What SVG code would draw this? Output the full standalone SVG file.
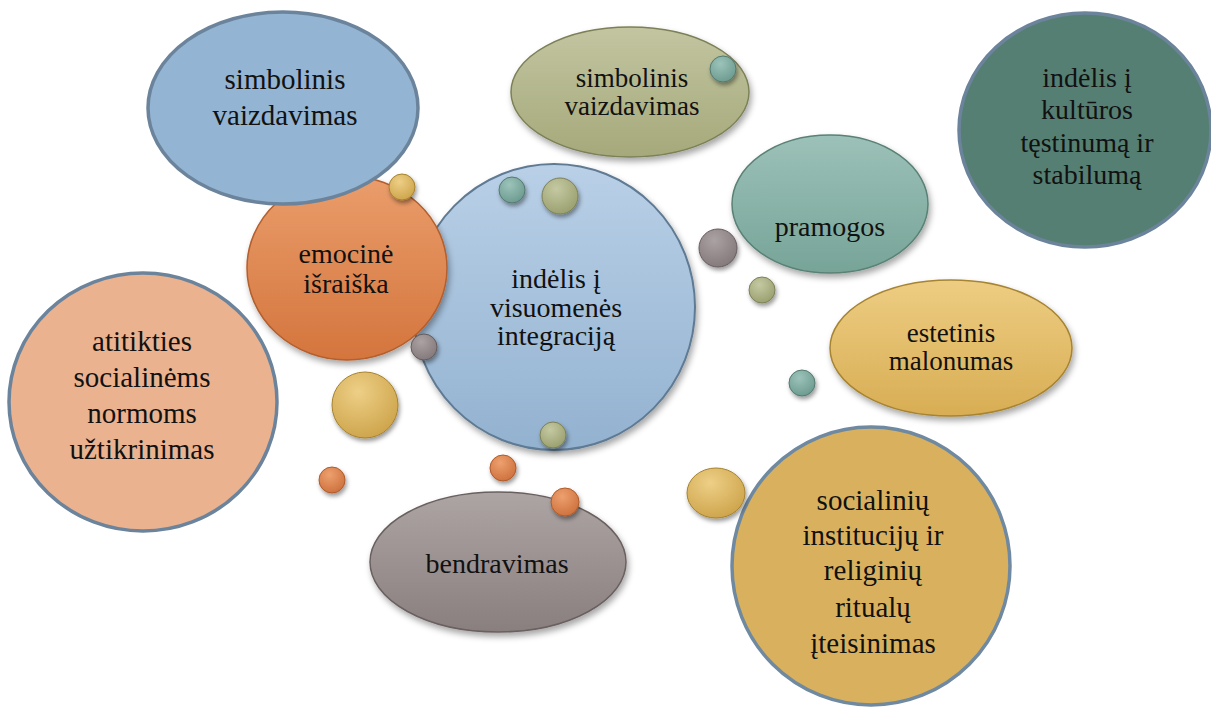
<svg xmlns="http://www.w3.org/2000/svg" width="1211" height="711" viewBox="0 0 1211 711">
<defs>
<filter id="sh" x="-20%" y="-20%" width="140%" height="150%">
<feDropShadow dx="2" dy="4" stdDeviation="3" flood-color="#000" flood-opacity="0.35"/>
</filter>
<filter id="shs" x="-50%" y="-50%" width="200%" height="200%">
<feDropShadow dx="1.5" dy="3" stdDeviation="2" flood-color="#000" flood-opacity="0.4"/>
</filter>
<linearGradient id="gOrange" x1="0" y1="0" x2="0" y2="1"><stop offset="0" stop-color="#EA9D6B"/><stop offset="1" stop-color="#D4753D"/></linearGradient>
<linearGradient id="gCenter" x1="0" y1="0" x2="0" y2="1"><stop offset="0" stop-color="#B9D0E7"/><stop offset="1" stop-color="#93B2D0"/></linearGradient>
<linearGradient id="gOlive" x1="0" y1="0" x2="0" y2="1"><stop offset="0" stop-color="#C2C5A0"/><stop offset="1" stop-color="#A5A97A"/></linearGradient>
<linearGradient id="gTeal" x1="0" y1="0" x2="0" y2="1"><stop offset="0" stop-color="#9CC1B8"/><stop offset="1" stop-color="#77A498"/></linearGradient>
<linearGradient id="gYel" x1="0" y1="0" x2="0" y2="1"><stop offset="0" stop-color="#EDCD82"/><stop offset="1" stop-color="#D8AD54"/></linearGradient>
<linearGradient id="gGray" x1="0" y1="0" x2="0" y2="1"><stop offset="0" stop-color="#ADA4A4"/><stop offset="1" stop-color="#8A7F7F"/></linearGradient>
<radialGradient id="dTeal" cx="0.4" cy="0.3" r="0.7"><stop offset="0" stop-color="#9CC3BA"/><stop offset="1" stop-color="#6E9C91"/></radialGradient>
<radialGradient id="dOlive" cx="0.4" cy="0.3" r="0.7"><stop offset="0" stop-color="#C5C9A2"/><stop offset="1" stop-color="#9CA171"/></radialGradient>
<radialGradient id="dGray" cx="0.4" cy="0.3" r="0.7"><stop offset="0" stop-color="#ABA2A4"/><stop offset="1" stop-color="#857A7C"/></radialGradient>
<radialGradient id="dYel" cx="0.4" cy="0.3" r="0.7"><stop offset="0" stop-color="#EDCF86"/><stop offset="1" stop-color="#CFA64E"/></radialGradient>
<radialGradient id="dOr" cx="0.4" cy="0.3" r="0.7"><stop offset="0" stop-color="#EDA06E"/><stop offset="1" stop-color="#CF7340"/></radialGradient>
</defs>
<style>
text{font-family:"Liberation Serif","Times New Roman",Tinos,"Noto Serif","DejaVu Serif",serif;font-size:28px;fill:#111;text-anchor:middle}
.big{font-size:29px}
.sm{font-size:27px}
.ring{stroke:#6B849C;stroke-width:3.5}
.bev{filter:url(#sh);stroke-width:1.5}
.dot{filter:url(#shs);stroke-width:1}
</style>

<g id="n-atitikties">
<ellipse cx="143" cy="402" rx="134" ry="129" fill="#EBB290" class="ring"/>
<text class="big" x="142" y="351">atitikties</text>
<text class="big" x="142" y="387">socialinėms</text>
<text class="big" x="142" y="423">normoms</text>
<text class="big" x="142" y="459">užtikrinimas</text>
</g>

<g id="n-integracija">
<ellipse cx="554" cy="307" rx="141" ry="143" fill="url(#gCenter)" stroke="#5F7A93" stroke-width="2" filter="url(#sh)"/>
<text x="556" y="288">indėlis į</text>
<text x="556" y="317">visuomenės</text>
<text x="556" y="345">integraciją</text>
</g>

<g id="n-emocine">
<ellipse cx="347" cy="268" rx="100" ry="92" fill="url(#gOrange)" stroke="#B35E2E" class="bev"/>
<text x="346" y="263">emocinė</text>
<text x="346" y="293">išraiška</text>
</g>

<g id="n-simbolinis1">
<ellipse cx="283" cy="108" rx="135" ry="96" fill="#93B4D2" class="ring"/>
<text class="big" x="285" y="89">simbolinis</text>
<text class="big" x="285" y="125">vaizdavimas</text>
</g>

<g id="n-simbolinis2">
<ellipse cx="630" cy="92" rx="119" ry="65" fill="url(#gOlive)" stroke="#7D8057" class="bev"/>
<text class="sm" x="632" y="87">simbolinis</text>
<text class="sm" x="632" y="115">vaizdavimas</text>
</g>

<g id="n-kulturos">
<ellipse cx="1085" cy="130" rx="126" ry="117" fill="#567F73" class="ring"/>
<text x="1087" y="87">indėlis į</text>
<text x="1087" y="119">kultūros</text>
<text x="1087" y="152">tęstinumą ir</text>
<text x="1087" y="184">stabilumą</text>
</g>

<g id="n-pramogos">
<ellipse cx="830" cy="204" rx="98" ry="69" fill="url(#gTeal)" stroke="#5A8175" class="bev"/>
<text x="830" y="236">pramogos</text>
</g>

<g id="n-estetinis">
<ellipse cx="951" cy="348" rx="121" ry="68" fill="url(#gYel)" stroke="#A68433" class="bev"/>
<text class="sm" x="951" y="342">estetinis</text>
<text class="sm" x="951" y="370">malonumas</text>
</g>

<g id="n-bendravimas">
<ellipse cx="498" cy="562" rx="128" ry="70" fill="url(#gGray)" stroke="#6A6060" class="bev"/>
<text x="497" y="573">bendravimas</text>
</g>

<g id="n-institucijos">
<ellipse cx="871" cy="566" rx="139" ry="139" fill="#D9B15E" stroke="#6F89A1" stroke-width="3.5"/>
<text class="big" x="873" y="510">socialinių</text>
<text class="big" x="873" y="545">institucijų ir</text>
<text class="big" x="873" y="580">religinių</text>
<text class="big" x="873" y="617">ritualų</text>
<text class="big" x="873" y="653">įteisinimas</text>
</g>

<g id="connectors">
<circle cx="402" cy="187" r="13" fill="url(#dYel)" stroke="#A6822E" class="dot"/>
<circle cx="512" cy="190" r="13" fill="url(#dTeal)" stroke="#55796F" class="dot"/>
<circle cx="560" cy="196" r="18" fill="url(#dOlive)" stroke="#7D8057" class="dot"/>
<circle cx="723" cy="69" r="13" fill="url(#dTeal)" stroke="#55796F" class="dot"/>
<circle cx="718" cy="248" r="19" fill="url(#dGray)" stroke="#655B5D" class="dot"/>
<circle cx="762" cy="290" r="13" fill="url(#dOlive)" stroke="#7D8057" class="dot"/>
<circle cx="424" cy="347" r="13" fill="url(#dGray)" stroke="#655B5D" class="dot"/>
<circle cx="365" cy="405" r="33" fill="url(#dYel)" stroke="#A6822E" class="dot"/>
<circle cx="553" cy="435" r="13" fill="url(#dOlive)" stroke="#7D8057" class="dot"/>
<circle cx="503" cy="468" r="13" fill="url(#dOr)" stroke="#B05A2A" class="dot"/>
<circle cx="332" cy="480" r="13" fill="url(#dOr)" stroke="#B05A2A" class="dot"/>
<circle cx="565" cy="502" r="14" fill="url(#dOr)" stroke="#B05A2A" class="dot"/>
<circle cx="802" cy="383" r="13" fill="url(#dTeal)" stroke="#55796F" class="dot"/>
<ellipse cx="716" cy="493" rx="29" ry="25" fill="url(#dYel)" stroke="#A6822E" class="dot"/>
</g>
</svg>
